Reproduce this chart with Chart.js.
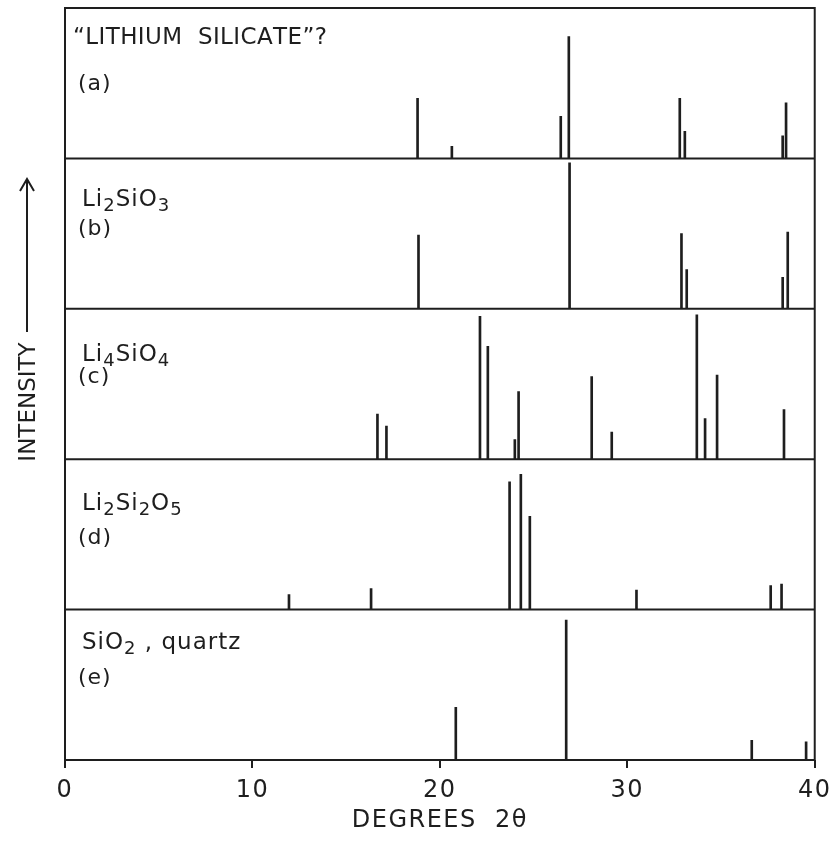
<!DOCTYPE html>
<html lang="en">
<head>
<meta charset="UTF-8">
<title>X-ray diffraction patterns - lithium silicates</title>
<script src="https://cdn.jsdelivr.net/npm/chart.js"></script>
<style>
  body { margin: 0; background: #fff; }
  #wrap { width: 838px; height: 843px; }
</style>
</head>
<body>
<div id="wrap"><canvas id="xrd" width="838" height="843"></canvas></div>
<script>
// peak positions (degrees 2 theta) and stick heights (% of panel height)
const posA = [18.81, 20.64, 26.45, 26.88, 32.80, 33.07, 38.29, 38.47];
const intA = [40, 8, 28, 81, 40, 18, 15, 37];

const posB = [18.86, 26.92, 32.89, 33.17, 38.29, 38.56];
const intB = [49, 97, 50, 26, 21, 51];

const posC = [16.67, 17.15, 22.14, 22.56, 24.00, 24.20, 28.10, 29.17, 33.71, 34.15, 34.79, 38.36];
const intC = [30, 22, 95, 75, 13, 45, 55, 18, 96, 27, 56, 33];

const posD = [11.95, 16.33, 23.72, 24.32, 24.80, 30.49, 37.65, 38.23];
const intD = [10, 14, 85, 90, 62, 13, 16, 17];

const posE = [20.85, 26.74, 36.64, 39.54];
const intE = [35, 93, 13, 12];

// "_" marks the next character as a subscript
const panelTitles = ['\u201CLITHIUM  SILICATE\u201D?', 'Li_2SiO_3', 'Li_4SiO_4', 'Li_2Si_2O_5', 'SiO_2 , quartz'];
const panelTags = ['(a)', '(b)', '(c)', '(d)', '(e)'];
const xTicks = [0, 10, 20, 30, 40];

const ink = '#1e1e1e';
const fontFamily = '"DejaVu Sans", sans-serif';

const panels = [
    { id: 'ya', pos: posA, val: intA },
    { id: 'yb', pos: posB, val: intB },
    { id: 'yc', pos: posC, val: intC },
    { id: 'yd', pos: posD, val: intD },
    { id: 'ye', pos: posE, val: intE }
];

// baseline offsets of title / tag from the top of each panel
const titleOffsets = [35.5, 47.5, 52.5, 50.5, 39.5];
const tagOffsets = [81.5, 76.5, 74.5, 84.5, 74.5];

function drawFormula(ctx, text, x, y) {
    let cx = x;
    for (let i = 0; i < text.length; i++) {
        let ch = text[i];
        if (ch === '_' && i + 1 < text.length) {
            i++;
            ctx.font = '18px ' + fontFamily;
            ctx.fillText(text[i], cx, y + 5);
            cx += ctx.measureText(text[i]).width;
        } else {
            ctx.font = '23px ' + fontFamily;
            ctx.fillText(ch, cx, y);
            cx += ctx.measureText(ch).width;
        }
    }
}

const framePlugin = {
    id: 'frame',
    beforeDraw(chart) {
        chart.ctx.letterSpacing = '1.5px';
    },
    afterDatasetsDraw(chart) {
        const ctx = chart.ctx;
        const a = chart.chartArea;
        ctx.save();
        ctx.strokeStyle = ink;
        ctx.lineWidth = 2;
        ctx.strokeRect(a.left, a.top, a.right - a.left, a.bottom - a.top);
        panels.forEach(p => {
            const s = chart.scales[p.id];
            const yb = s.getPixelForValue(0);
            ctx.beginPath();
            ctx.moveTo(a.left, yb);
            ctx.lineTo(a.right, yb);
            ctx.stroke();
        });
        ctx.restore();
    },
    afterDraw(chart) {
        const ctx = chart.ctx;
        const a = chart.chartArea;
        ctx.save();
        ctx.fillStyle = ink;
        ctx.textAlign = 'left';
        ctx.textBaseline = 'alphabetic';
        panels.forEach((p, i) => {
            const s = chart.scales[p.id];
            ctx.letterSpacing = i === 0 ? '0.4px' : '1px';
            drawFormula(ctx, panelTitles[i], a.left + (i === 0 ? 8 : 17), s.top + titleOffsets[i]);
            ctx.letterSpacing = '1px';
            ctx.font = '22px ' + fontFamily;
            ctx.fillText(panelTags[i], a.left + 13, s.top + tagOffsets[i]);
        });

        // vertical axis label with arrow
        ctx.save();
        ctx.translate(35, 402);
        ctx.rotate(-Math.PI / 2);
        ctx.textAlign = 'center';
        ctx.letterSpacing = '0px';
        ctx.font = '23px ' + fontFamily;
        ctx.fillText('INTENSITY', 0, 0);
        ctx.restore();

        ctx.strokeStyle = ink;
        ctx.lineWidth = 2;
        ctx.beginPath();
        ctx.moveTo(27, 332);
        ctx.lineTo(27, 179);
        ctx.moveTo(20, 191);
        ctx.lineTo(27, 179);
        ctx.lineTo(34, 191);
        ctx.stroke();
        ctx.restore();
        ctx.letterSpacing = '0px';
    }
};

const datasets = panels.map(p => ({
    label: p.id,
    yAxisID: p.id,
    data: p.pos.map((x, i) => ({ x: x, y: p.val[i] })),
    backgroundColor: ink,
    borderWidth: 0,
    barThickness: 2,
    grouped: false
}));

const scales = {
    x: {
        type: 'linear',
        min: 0,
        max: 40,
        offset: false,
        afterBuildTicks: s => { s.ticks = xTicks.map(v => ({ value: v })); },
        afterFit: s => { s.height = 83; },
        grid: { offset: false, drawOnChartArea: false, drawTicks: true, tickLength: 8, color: ink, lineWidth: 2 },
        border: { display: false },
        ticks: { padding: 8, color: ink, maxRotation: 0, font: { family: fontFamily, size: 24 } },
        title: {
            display: true,
            text: 'DEGREES  2\u03B8',
            color: ink,
            padding: { top: 0, bottom: 8 },
            font: { family: fontFamily, size: 24 }
        }
    }
};
// left-side stacked axes are laid out last-defined-first, so define bottom panel first
panels.slice().reverse().forEach(p => {
    scales[p.id] = {
        type: 'linear',
        min: 0,
        max: 100,
        stack: 'panels',
        stackWeight: 1,
        position: 'left',
        display: false
    };
});

new Chart(document.getElementById('xrd'), {
    type: 'bar',
    data: { datasets: datasets },
    options: {
        responsive: false,
        animation: false,
        layout: { padding: { left: 65, right: 23, top: 8, bottom: 0 } },
        plugins: { legend: { display: false }, tooltip: { enabled: false } },
        scales: scales
    },
    plugins: [framePlugin]
});
</script>
</body>
</html>
